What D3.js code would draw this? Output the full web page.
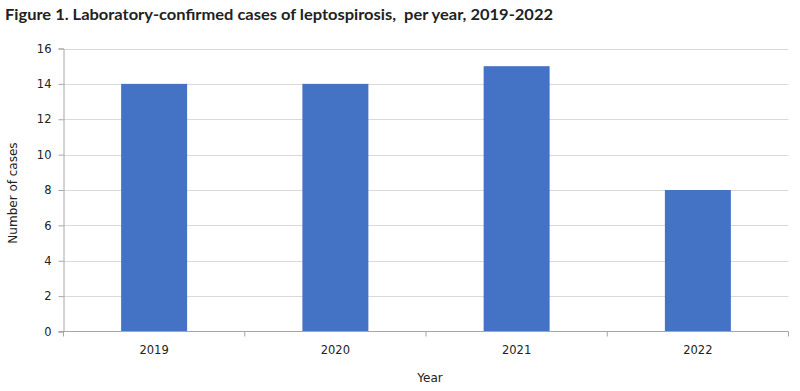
<!DOCTYPE html>
<html><head><meta charset="utf-8">
<script src="https://cdn.jsdelivr.net/npm/d3@7"></script>
<style>body{margin:0;background:#fff}svg{display:block}</style>
</head><body>
<svg id="c" width="800" height="391"></svg>
<script>
const categories = ["2019","2020","2021","2022"];
const cases = [14,14,15,8];
const yTicks = [0,2,4,6,8,10,12,14,16];
const title = "Figure 1. Laboratory-confirmed cases of leptospirosis,  per year, 2019-2022";

const svg = d3.select("#c");
const font = "'DejaVu Sans', Verdana, sans-serif";
const m = {left:63.5, right:788.5, top:48.5, bottom:331.5};
const x = d3.scaleBand().domain(categories).range([m.left,m.right]).paddingInner(0.636).paddingOuter(0.318);
const y = d3.scaleLinear().domain([0,16]).range([m.bottom,m.top]);

const t = svg.append("text").attr("x",5).attr("y",20).attr("font-family","Lato, sans-serif").attr("font-weight","bold")
  .attr("font-size",15.5).attr("fill","#222").style("white-space","pre").text(title);
const tw = t.node().getComputedTextLength();
if (Math.abs(tw-548) > 4) t.attr("textLength",548).attr("lengthAdjust","spacingAndGlyphs");

// gridlines
svg.append("g").selectAll("line").data(yTicks.filter(d=>d>0)).join("line")
  .attr("x1",m.left).attr("x2",m.right).attr("y1",d=>Math.round(y(d))+0.5).attr("y2",d=>Math.round(y(d))+0.5)
  .attr("stroke","#d9d9d9").attr("stroke-width",1);

// bars
svg.append("g").selectAll("rect").data(categories).join("rect")
  .attr("x",d=>x(d)).attr("width",x.bandwidth())
  .attr("y",(d,i)=>y(cases[i])).attr("height",(d,i)=>y(0)-y(cases[i]))
  .attr("fill","#4472c4");

// y axis
const ya = svg.append("g").attr("transform",`translate(${m.left},0)`)
  .call(d3.axisLeft(y).tickValues(yTicks).tickSize(5).tickPadding(7).tickFormat(d3.format("d")));
ya.select(".domain").attr("stroke","#a6a6a6");
ya.selectAll(".tick line").attr("stroke","#a6a6a6");
ya.selectAll("text").attr("font-family",font).attr("font-size",11.5).attr("fill","#222");

// x axis
const xs = d3.scaleLinear().domain([0,4]).range([m.left,m.right]);
const xa = svg.append("g").attr("transform",`translate(0,${m.bottom})`);
xa.append("line").attr("x1",m.left-5).attr("x2",m.right).attr("stroke","#a6a6a6");
xa.selectAll("line.t").data(d3.range(5)).join("line").attr("class","t")
  .attr("x1",d=>xs(d)).attr("x2",d=>xs(d)).attr("y1",0).attr("y2",5).attr("stroke","#a6a6a6");
xa.selectAll("text").data(categories).join("text")
  .attr("x",d=>x(d)+x.bandwidth()/2).attr("y",22).attr("text-anchor","middle")
  .attr("font-family",font).attr("font-size",11.5).attr("fill","#222").text(d=>d);

svg.append("text").attr("transform","translate(17,193) rotate(-90)").attr("text-anchor","middle")
  .attr("font-family",font).attr("font-size",12).attr("fill","#222").text("Number of cases");
svg.append("text").attr("x",430).attr("y",382).attr("text-anchor","middle")
  .attr("font-family",font).attr("font-size",12).attr("fill","#222").text("Year");
</script>
</body></html>
